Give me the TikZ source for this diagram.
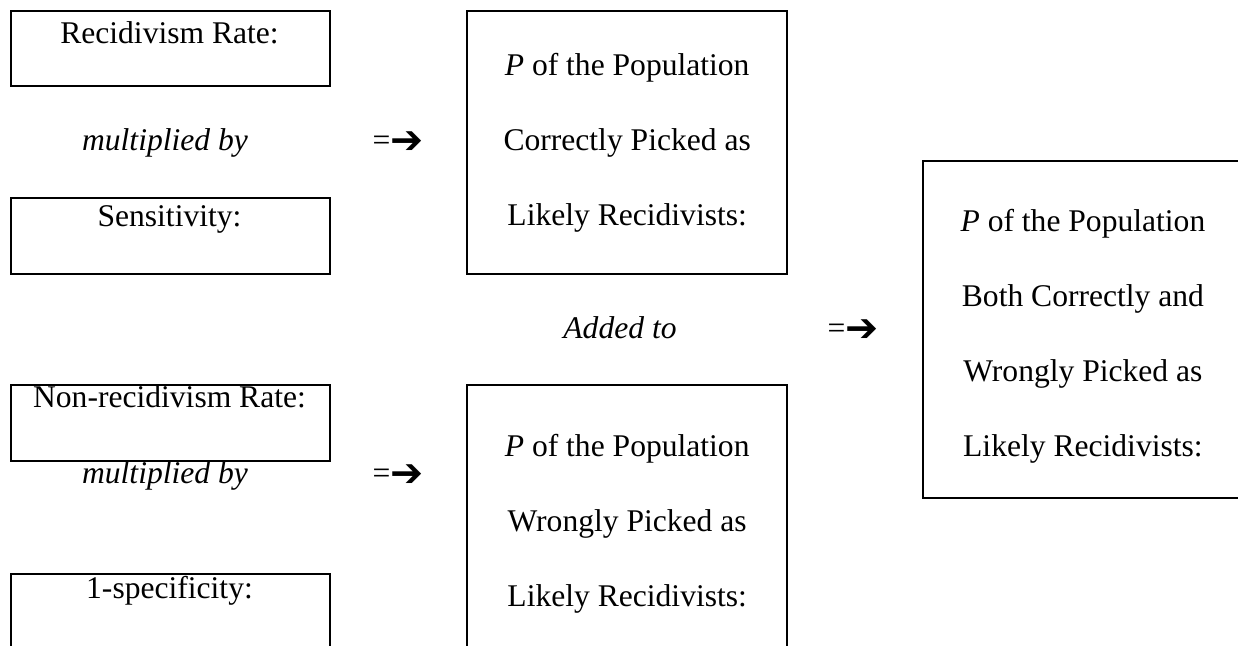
\documentclass[tikz,border=0pt]{standalone}
\usepackage{fontspec}
\setmainfont{Liberation Serif}
\newfontfamily\arrowfont{DejaVu Sans}
\newcommand{\gives}{=\raisebox{-1.2pt}{\arrowfont\fontsize{15}{15}\selectfont ➔}}
\begin{document}
\begin{tikzpicture}[x=0.38pt, y=-0.38pt,
	box/.style={draw, line width=0.9pt, inner sep=0pt, anchor=north west},
	txt/.style={font=\fontsize{12}{28.5}\selectfont, align=center, inner sep=0pt}]

\useasboundingbox (0,0) rectangle (1238,645);
\clip (0,0) rectangle (1238,645);

% left column: rates and test measures
\node[box, minimum width=121.2pt, minimum height=28.5pt] (rate) at (10,10) {};
\node[box, minimum width=121.2pt, minimum height=28.9pt] (sens) at (10,197) {};
\node[box, minimum width=121.2pt, minimum height=28.9pt] (nonrate) at (10,384) {};
\node[box, minimum width=121.2pt, minimum height=28.9pt] (spec) at (10,573) {};
\node[txt, anchor=base] (ratetxt) at (169.5,43) {Recidivism Rate:};
\node[txt, anchor=base] (senstxt) at (169.5,226) {Sensitivity:};
\node[txt, anchor=base] (nonratetxt) at (169.5,407) {Non-recidivism Rate:};
\node[txt, anchor=base] (spectxt) at (169.5,598) {1-specificity:};

% operations
\draw	(165,150) node[txt, anchor=base] (mult1) {\textit{multiplied by}}
		(165,483) node[txt, anchor=base] (mult2) {\textit{multiplied by}}
		(620,338) node[txt, anchor=base] (add) {\textit{Added to}}
		(372,150) node[txt, anchor=base west] (gives1) {\gives}
		(372,483) node[txt, anchor=base west] (gives2) {\gives}
		(827,338) node[txt, anchor=base west] (gives3) {\gives};

% middle column: products
\node[box, minimum width=121.6pt, minimum height=99.9pt] (correct) at (466,10) {};
\node[txt] (correcttxt) at (correct.center) {\textit{P} of the Population\\Correctly Picked as\\Likely Recidivists:};
\node[box, minimum width=121.6pt, minimum height=102.6pt] (wrong) at (466,384) {};
\node[txt, yshift=-1.5pt] (wrongtxt) at (wrong.center) {\textit{P} of the Population\\Wrongly Picked as\\Likely Recidivists:};

% right column: sum
\node[box, minimum width=125.4pt, minimum height=128.1pt] (total) at (922,160) {};
\node[txt, xshift=-2pt, yshift=-2.3pt] (totaltxt) at (total.center) {\textit{P} of the Population\\Both Correctly and\\Wrongly Picked as\\Likely Recidivists:};

\end{tikzpicture}
\end{document}
